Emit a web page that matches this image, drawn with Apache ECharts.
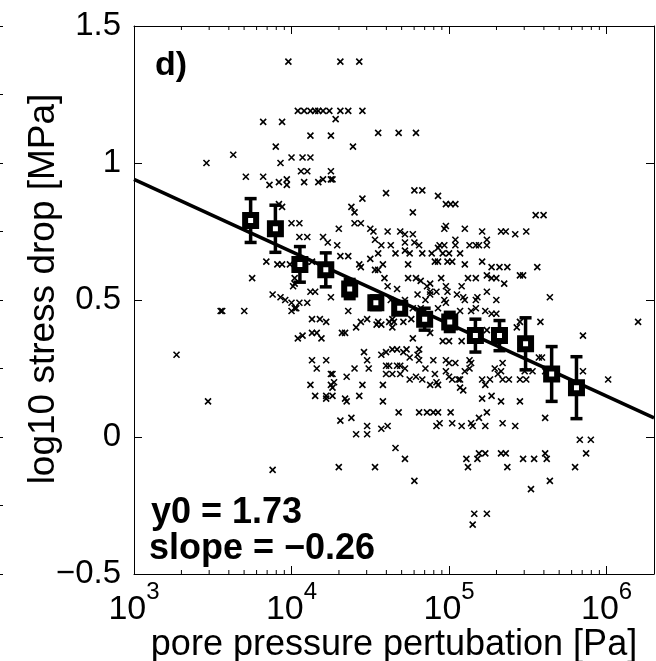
<!DOCTYPE html>
<html><head><meta charset="utf-8">
<script src="https://cdn.jsdelivr.net/npm/echarts@6/dist/echarts.min.js"></script>
<style>html,body{margin:0;padding:0;background:#fff}#c{width:656px;height:661px}</style>
</head><body><div id="c"></div>
<script>
// ---- data ----
const xRange = [1e3, 2e6];
const yRange = [-0.5, 1.5];
const yTickStep = 0.5;

// binned means with error bars
const binPressure = [5500, 7900, 11300, 16500, 23400, 34300, 48600, 70000, 101000, 147000, 209000, 306000, 448000, 644000];
const binStressDrop = [0.79, 0.76, 0.63, 0.61, 0.54, 0.49, 0.47, 0.43, 0.42, 0.37, 0.37, 0.34, 0.23, 0.18];
const binError = [0.08, 0.086, 0.065, 0.062, 0.035, 0.025, 0.02, 0.04, 0.035, 0.06, 0.055, 0.095, 0.10, 0.113];

// fitted line end points
const fitPressure = [1e3, 2e6];
const fitStressDrop = [0.94, 0.07];

// individual events: [log10 pore pressure perturbation (Pa), log10 stress drop (MPa)]
const eventPoints = [
[3.98,1.37],[4.31,1.37],[4.43,1.37],
[4.04,1.19],[4.08,1.19],[4.12,1.19],[4.15,1.19],[4.17,1.19],[4.20,1.19],[4.24,1.19],[4.31,1.19],[4.36,1.19],[4.45,1.19],[4.28,1.16],
[3.82,1.15],[3.94,1.15],
[4.12,1.10],[4.25,1.10],[4.55,1.11],[4.68,1.11],[4.79,1.11],
[3.90,1.06],[4.39,1.06],[3.63,1.03],[3.46,1.00],
[4.00,1.02],[4.07,1.02],[4.12,1.02],[3.93,1.00],
[3.71,0.95],[3.82,0.95],[4.06,0.97],[4.10,0.97],[4.25,0.97],[4.25,0.94],
[3.86,0.92],[3.92,0.93],[3.97,0.94],[3.97,0.92],[4.08,0.93],[4.17,0.93],[4.20,0.94],[4.26,0.94],
[4.45,0.87],[4.60,0.89],[4.78,0.90],[4.83,0.90],[4.93,0.88],
[4.98,0.85],[5.01,0.85],[5.04,0.85],
[4.77,0.82],[5.55,0.81],[5.60,0.81],[4.38,0.84],[4.40,0.82],[3.94,0.84],[3.92,0.85],
[4.00,0.78],[4.05,0.78],[4.30,0.76],[4.40,0.78],[4.44,0.78],[4.50,0.76],[4.52,0.75],
[4.61,0.75],[4.69,0.75],[4.72,0.74],[4.77,0.74],
[4.97,0.76],[4.98,0.77],[5.10,0.76],[5.21,0.75],[5.33,0.75],[5.36,0.75],[5.42,0.74],[5.49,0.75],
[4.05,0.73],[4.10,0.73],[4.20,0.73],[4.23,0.71],[4.29,0.70],
[4.53,0.72],[4.57,0.70],[4.63,0.70],[4.72,0.71],[4.78,0.71],[4.81,0.70],
[4.94,0.70],[4.97,0.70],[5.04,0.72],[5.04,0.70],[5.13,0.70],[5.17,0.70],[5.19,0.70],[5.24,0.70],[5.24,0.72],
[4.31,0.66],[4.36,0.66],[4.43,0.63],[4.44,0.62],[4.50,0.65],[4.55,0.67],
[4.58,0.63],[4.55,0.61],[4.53,0.61],[4.66,0.67],[4.72,0.68],[4.75,0.67],[4.74,0.63],
[4.83,0.67],[4.89,0.67],[4.93,0.69],[4.96,0.67],[5.00,0.67],[5.07,0.67],
[4.91,0.64],[4.93,0.64],[4.99,0.64],[5.02,0.64],[5.10,0.63],[5.21,0.64],[5.27,0.62],[5.32,0.62],[5.37,0.62],[5.56,0.62],
[5.45,0.59],[5.47,0.59],
[3.84,0.64],[3.91,0.63],[3.94,0.63],[3.99,0.63],[4.09,0.64],[4.13,0.64],
[3.75,0.58],[4.01,0.55],[4.02,0.58],[4.02,0.56],
[4.59,0.58],[4.61,0.55],[4.67,0.54],[4.74,0.58],[4.79,0.58],[4.82,0.57],
[4.88,0.56],[4.95,0.58],[4.98,0.55],[5.08,0.55],[5.12,0.58],[5.17,0.58],[5.24,0.59],[5.27,0.58],[5.30,0.58],[5.35,0.56],
[4.86,0.55],[4.88,0.53],[4.99,0.53],[5.24,0.53],
[5.10,0.50],[5.17,0.50],[5.30,0.50],[5.64,0.51],[4.25,0.51],
[3.88,0.52],[3.93,0.51],[3.96,0.50],[4.00,0.49],[4.05,0.49],[4.12,0.53],[4.10,0.49],[4.15,0.53],
[3.55,0.46],[3.56,0.46],[3.70,0.46],[4.00,0.46],[4.02,0.47],[4.03,0.47],
[4.13,0.43],[4.18,0.43],[4.22,0.42],[4.36,0.46],
[4.63,0.50],[4.67,0.49],[4.72,0.50],[4.71,0.46],[4.77,0.47],[4.82,0.47],
[4.93,0.47],[4.98,0.49],[5.07,0.46],[5.14,0.46],[5.17,0.47],[5.23,0.46],[5.30,0.45],
[6.20,0.42],[4.44,0.42],[4.48,0.43],[4.55,0.42],[4.62,0.42],[4.65,0.42],[5.58,0.42],
[4.88,0.52],[4.97,0.50],[5.05,0.52],[5.09,0.51],[5.18,0.51],
[5.27,0.45],[5.43,0.40],[5.45,0.42],
[4.80,0.52],[4.85,0.50],[4.92,0.53],
[4.04,0.36],[4.07,0.37],[4.13,0.38],[4.16,0.38],[4.19,0.36],
[4.32,0.38],[4.34,0.38],[4.41,0.40],[4.54,0.41],[4.57,0.41],[4.64,0.40],[4.71,0.42],[4.76,0.43],[4.64,0.43],
[4.77,0.36],[5.85,0.37],[3.27,0.30],
[5.24,0.39],[4.88,0.38],[4.96,0.35],[4.73,0.32],[4.81,0.32],[4.90,0.28],[5.00,0.27],[5.13,0.28],
[4.13,0.28],[4.22,0.28],[4.16,0.25],
[4.40,0.25],[4.46,0.31],[4.48,0.28],[4.49,0.25],
[4.26,0.23],[4.27,0.20],[4.26,0.18],[4.35,0.22],
[4.12,0.19],[4.15,0.15],[4.22,0.15],[4.22,0.14],[4.26,0.15],[4.35,0.13],[4.43,0.15],
[4.45,0.19],[4.58,0.19],[4.58,0.13],
[4.57,0.30],[4.60,0.31],[4.64,0.32],[4.67,0.32],[4.71,0.31],[4.75,0.29],[4.80,0.30],[4.81,0.28],
[4.60,0.26],[4.62,0.26],[4.67,0.26],[4.69,0.26],[4.72,0.25],[4.60,0.23],[4.64,0.23],[4.69,0.23],[4.75,0.21],[4.79,0.22],[4.83,0.21],
[4.25,0.23],[4.25,0.19],[4.85,0.25],
[4.88,0.19],[4.93,0.19],[4.98,0.28],[5.04,0.27],[5.07,0.21],[5.09,0.17],
[5.23,0.19],[5.26,0.21],[5.34,0.21],[5.38,0.21],[5.33,0.24],[5.29,0.25],[5.31,0.23],[5.34,0.27],
[5.48,0.24],[5.49,0.21],[5.45,0.21],
[5.57,0.29],[5.59,0.29],[5.61,0.24],[5.53,0.24],[5.85,0.24],[6.01,0.21],
[5.08,0.35],[5.00,0.35],
[4.91,0.23],[4.92,0.20],[4.98,0.24],[5.00,0.22],[5.02,0.21],[5.06,0.21],[5.07,0.18],[5.10,0.24],[5.13,0.25],[5.14,0.27],[5.21,0.21],
[5.21,0.14],[5.27,0.15],[5.33,0.13],[5.45,0.13],[4.34,0.14],[3.47,0.13],
[4.68,0.09],[4.81,0.09],[4.86,0.09],[4.90,0.09],[4.93,0.09],[5.01,0.09],[5.24,0.09],
[4.31,0.06],[4.38,0.07],[4.41,0.01],[4.48,0.01],[4.48,0.04],[4.57,0.03],[4.61,0.04],
[4.92,0.04],[4.94,0.05],[5.02,0.05],[5.08,0.04],[5.14,0.05],[5.15,0.04],[5.19,0.07],[5.23,0.04],[5.34,0.05],[5.42,0.04],
[5.61,0.07],
[5.83,-0.01],[5.90,-0.01],[5.87,-0.06],[5.80,-0.11],[5.64,-0.16],[5.52,-0.19],
[5.61,-0.06],[5.62,-0.08],[5.54,-0.08],[5.47,-0.08],
[5.33,-0.06],[5.36,-0.06],[5.37,-0.11],
[5.19,-0.06],[5.23,-0.06],[5.18,-0.08],[5.11,-0.08],[5.12,-0.11],
[5.16,-0.28],[5.24,-0.28],[5.15,-0.32],
[4.78,-0.16],[4.72,-0.08],[4.66,-0.04],
[4.53,-0.11],[4.30,-0.11],[3.88,-0.12]
];

// texts
const panelLabel = 'd)';
const fitTexts = ['y0 = 1.73', 'slope = \u22120.26'];
const xName = 'pore pressure pertubation [Pa]';
const yName = 'log10 stress drop [MPa]';

// ---- chart ----
const FONT = '"Liberation Sans", Arial, Helvetica, sans-serif';
const chart = echarts.init(document.getElementById('c'), null, {renderer: 'canvas'});

const minorTicks = [];
for (let e = 3; e <= 6; e++) for (let m = 2; m <= 9; m++) {
  const v = m * Math.pow(10, e);
  if (v < xRange[1]) minorTicks.push([v, 0]);
}

function xLabel(v) {
  const e = Math.log10(v);
  const r = Math.round(e);
  if (Math.abs(e - r) > 1e-6) return '';
  return '{b|10}{s|' + r + '}';
}
function yLabel(v) {
  return v < 0 ? '\u2212' + Math.abs(v) : String(v);
}

const xCommon = {
  type: 'log', logBase: 10, min: xRange[0], max: xRange[1],
  splitLine: {show: false},
  axisLine: {show: true, onZero: false, lineStyle: {color: '#000', width: 1}},
  axisTick: {show: true, inside: true, length: 8, lineStyle: {color: '#000', width: 1}}
};
const yCommon = {
  type: 'value', min: yRange[0], max: yRange[1], interval: yTickStep,
  splitLine: {show: false},
  axisLine: {show: true, onZero: false, lineStyle: {color: '#000', width: 1}},
  axisTick: {show: true, inside: true, length: 8, lineStyle: {color: '#000', width: 1}}
};

chart.setOption({
  animation: false,
  backgroundColor: '#fff',
  grid: {left: 134, right: 2, top: 26, bottom: 87, containLabel: false, outerBoundsMode: 'none'},
  xAxis: [
    Object.assign({}, xCommon, {
      position: 'bottom',
      name: xName, nameLocation: 'middle', nameGap: 53, nameMoveOverlap: false,
      nameTextStyle: {fontFamily: FONT, fontSize: 36, color: '#000'},
      axisLabel: {
        show: true, margin: 19, formatter: xLabel,
        rich: {
          b: {fontFamily: FONT, fontSize: 34, color: '#000', lineHeight: 34},
          s: {fontFamily: FONT, fontSize: 24, color: '#000', lineHeight: 24, padding: [0, 0, 36, 0]}
        }
      }
    }),
    Object.assign({}, xCommon, {position: 'top', axisLabel: {show: false}})
  ],
  yAxis: [
    Object.assign({}, yCommon, {
      position: 'left',
      name: yName, nameLocation: 'middle', nameGap: 72, nameRotate: 90, nameMoveOverlap: false,
      nameTextStyle: {fontFamily: FONT, fontSize: 37, color: '#000', padding: [0, 0, 0, 22]},
      axisLabel: {show: true, margin: 13, formatter: yLabel, fontFamily: FONT, fontSize: 33, color: '#000'}
    }),
    Object.assign({}, yCommon, {position: 'right', axisLabel: {show: false}}),
    {
      type: 'value', min: yRange[0], max: yRange[1], interval: 0.25,
      position: 'left', offset: 134,
      splitLine: {show: false}, axisLabel: {show: false},
      axisLine: {show: false, onZero: false},
      axisTick: {show: true, inside: true, length: 3, lineStyle: {color: '#000', width: 1}}
    }
  ],
  graphic: [
    {type: 'text', left: 155, top: 49, z: 100,
     style: {text: panelLabel, font: 'bold 34px ' + FONT, fill: '#000'}},
    {type: 'text', left: 151, top: 495, z: 100,
     style: {text: fitTexts[0], font: 'bold 36px ' + FONT, fill: '#000'}},
    {type: 'text', left: 149, top: 531, z: 100,
     style: {text: fitTexts[1], font: 'bold 36px ' + FONT, fill: '#000'}}
  ],
  series: [
    {
      type: 'custom', name: 'minor ticks', xAxisIndex: 0, yAxisIndex: 0, silent: true, z: 1,
      data: minorTicks,
      renderItem: function (params, api) {
        const x = api.coord([api.value(0), 0])[0];
        const cs = params.coordSys;
        const st = {stroke: '#000', lineWidth: 1};
        return {type: 'group', children: [
          {type: 'line', shape: {x1: x, y1: cs.y + cs.height, x2: x, y2: cs.y + cs.height - 4}, style: st},
          {type: 'line', shape: {x1: x, y1: cs.y, x2: x, y2: cs.y + 4}, style: st}
        ]};
      }
    },
    {
      type: 'scatter', name: 'events', z: 2,
      data: eventPoints.map(p => [Math.pow(10, p[0]), p[1]]),
      symbol: 'path://M0,0L10,10M10,0L0,10', symbolSize: 6,
      itemStyle: {color: 'rgba(0,0,0,0)', borderColor: '#000', borderWidth: 1.6, opacity: 1}
    },
    {
      type: 'line', name: 'fit', z: 3,
      data: fitPressure.map((x, i) => [x, fitStressDrop[i]]),
      symbol: 'none', lineStyle: {color: '#000', width: 3.5}
    },
    {
      type: 'custom', name: 'error bars', z: 4,
      data: binPressure.map((x, i) => [x, binStressDrop[i], binError[i]]),
      encode: {x: 0, y: 1},
      renderItem: function (params, api) {
        const x = api.value(0), y = api.value(1), e = api.value(2);
        const hi = api.coord([x, y + e]);
        const lo = api.coord([x, y - e]);
        const w = 6;
        const st = {stroke: '#000', lineWidth: 3.5};
        return {type: 'group', children: [
          {type: 'line', shape: {x1: lo[0], y1: lo[1], x2: hi[0], y2: hi[1]}, style: st},
          {type: 'line', shape: {x1: hi[0] - w, y1: hi[1], x2: hi[0] + w, y2: hi[1]}, style: st},
          {type: 'line', shape: {x1: lo[0] - w, y1: lo[1], x2: lo[0] + w, y2: lo[1]}, style: st}
        ]};
      }
    },
    {
      type: 'scatter', name: 'bins', z: 5,
      data: binPressure.map((x, i) => [x, binStressDrop[i]]),
      symbol: 'rect', symbolSize: 11,
      itemStyle: {color: '#fff', borderColor: '#000', borderWidth: 6, opacity: 1}
    }
  ]
});
</script>
</body></html>
